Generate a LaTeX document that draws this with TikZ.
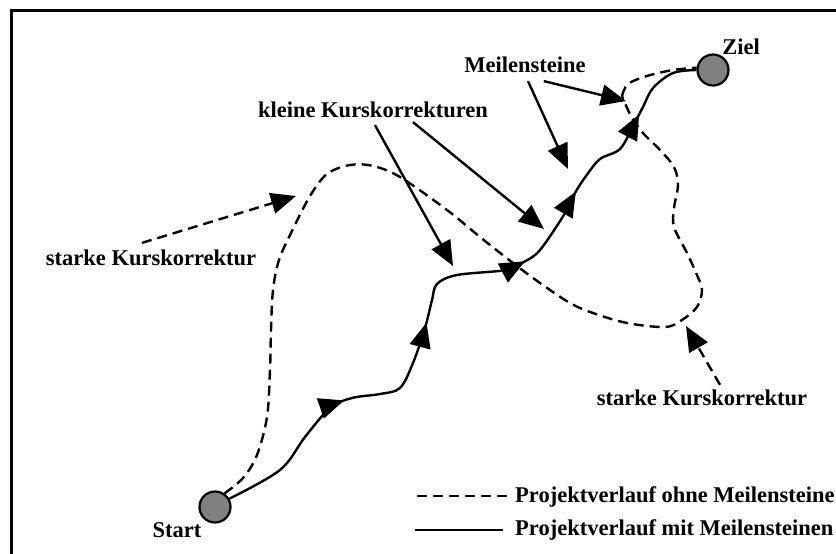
\documentclass[tikz,border=0pt]{standalone}
\usepackage{fontspec}
\setmainfont{Liberation Serif}
\usetikzlibrary{arrows.meta,decorations.markings}
\definecolor{mgray}{HTML}{808080}
\begin{document}
\begin{tikzpicture}[x=1pt,y=-1pt,
  >={Triangle[length=25pt 0 0,width=21pt 0 0]},
  lbl/.style={font=\fontsize{22.5}{26}\selectfont\bfseries, inner sep=0pt},
  milestone/.style={circle, draw, line width=2.2pt, fill=mgray, minimum size=31pt, inner sep=0pt},
  route/.style={line width=2.4pt},
  noms/.style={line width=2.4pt, dash pattern=on 10pt off 6pt},
  annot/.style={line width=2.4pt, ->},
  annotd/.style={line width=2.4pt, dash pattern=on 10pt off 6pt, ->}]
\useasboundingbox (0,0) rectangle (836,554);
\draw[line width=2.2pt] (11.5,554) -- (11.5,10.5) -- (836,10.5);

% milestones
\node[milestone] (start) at (215,507) {};
\node[milestone] (ziel) at (713,70) {};
\node[lbl] (starttxt) at (177,530) {Start};
\node[lbl] (zieltxt) at (741,47) {Ziel};

% path without milestones
\draw[noms] plot[smooth, tension=0.55] coordinates {(start.55) (243,478) (257,455) (267,417) (270,370) (271,330) (273,290) (279,260) (292,231) (310,196) (327,174) (350,165) (373,166) (400,177) (447,210) (480,237) (513,263) (540,283) (570,303) (593,313) (627,323) (665,327) (682,320) (697,307) (702,290) (697,275) (687,253) (674,227) (674,208) (678,185) (674,167) (660,150) (643,133) (631,116) (622,96)};
\draw[noms] plot[smooth, tension=0.55] coordinates {(622,96) (628,84) (647,76) (673,70) (ziel.172)};

% path with milestones
\draw[route, postaction={decorate}, decoration={markings,
   mark=at position 0.225 with {\arrow{>}},
   mark=at position 0.413 with {\arrow{>}},
   mark=at position 0.607 with {\arrow{>}},
   mark=at position 0.735 with {\arrow{>}},
   mark=at position 0.885 with {\arrow{>}}}]
  plot[smooth, tension=0.55] coordinates {(start.30) (280,470) (305,437) (330,408) (352,398) (380,394) (400,388) (413,363) (425,328) (432,300) (437,284) (457,275) (507,270) (522,263) (540,250) (567,210) (575,193) (586,176) (600,159) (620,149) (633,126) (643,107) (653,88) (673,73) (ziel.180)};

% labels
\node[lbl] (meil) at (525,65) {Meilensteine};
\node[lbl] (kleine) at (373,110) {kleine Kurskorrekturen};
\node[lbl] (starkL) at (151,258) {starke Kurskorrektur};
\node[lbl] (starkR) at (702,398) {starke Kurskorrektur};

\coordinate (m1) at (626,101);
\coordinate (m2) at (568,169);
\coordinate (k1) at (453,266);
\coordinate (k2) at (544,229);
\coordinate (sL) at (296,196);
\coordinate (sR) at (686,326);

\draw[annot] (meil.south east) ++(-42,8) -- (m1);
\draw[annot] (meil.south) ++(3,8) -- (m2);
\draw[annot] (kleine.south) ++(2,7) -- (k1);
\draw[annot] (kleine.south) ++(40,4) -- (k2);
\draw[annotd] (starkL.north) ++(-9,-7) -- (sL);
\draw[annotd] (starkR.north) ++(18,-5) -- (sR);

% legend
\node[lbl, anchor=west] (leg1) at (515,497) {Projektverlauf ohne Meilensteine};
\node[lbl, anchor=west] (leg2) at (515,530) {Projektverlauf mit Meilensteinen};
\coordinate (l1) at (417,496);
\coordinate (l2) at (415,530);
\draw[noms] (l1) -- ([xshift=-5pt]leg1.west |- l1);
\draw[route] (l2) -- ([xshift=-12pt]leg2.west |- l2);
\end{tikzpicture}
\end{document}
